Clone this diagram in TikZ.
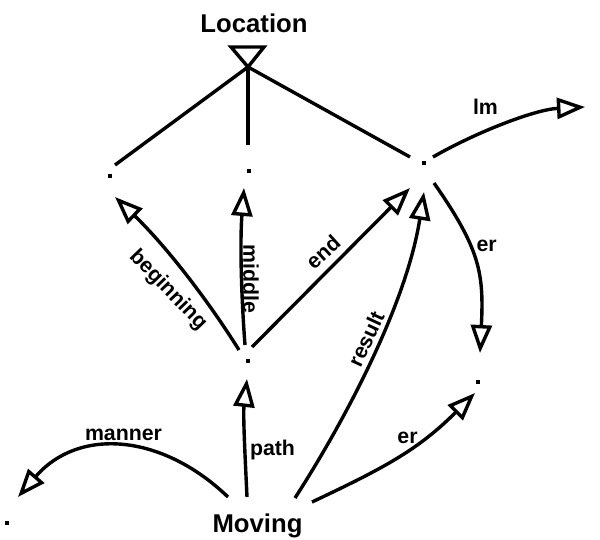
\documentclass[tikz,border=0pt]{standalone}
\usepackage{fontspec}
\setmainfont{Liberation Sans}
\usetikzlibrary{arrows.meta}
\begin{document}
\begin{tikzpicture}[x=1pt,y=-1pt,
  conn/.style={line width=3.4pt},
  arr/.style={conn, -{Triangle[open, length=28pt, width=21pt]}},
  dotnode/.style={fill=black, rectangle, inner sep=0pt, minimum size=4pt},
  lbl/.style={font=\bfseries\fontsize{21.3}{25}\selectfont, inner sep=0pt},
  title/.style={font=\bfseries\fontsize{25.7}{30}\selectfont, inner sep=0pt, anchor=base},
]
\useasboundingbox (0,0) rectangle (600,540);
% main nodes
\node[title] (Location) at (254,33) {Location};
\node[title] (Moving) at (257.5,532) {Moving};
\coordinate (apex) at (248,67);
\node[dotnode] (A) at (110,176) {};
\node[dotnode] (B) at (249,171) {};
\node[dotnode] (C) at (424,163) {};
\node[dotnode] (H) at (248,361) {};
\node[dotnode] (D) at (478,382) {};
\node[dotnode] (E) at (7,523) {};
\coordinate (lmEnd) at (585,107);
% generalisation triangle and its lines
\draw[conn, line join=miter] ([shift={(-17,-20)}]apex) -- ([shift={(16,-20)}]apex) -- (apex) -- cycle;
\draw[conn] (apex) -- ([shift={(5,-11)}]A.center);
\draw[conn] (apex) -- ([shift={(-1,-26)}]B.center);
\draw[conn] (apex) -- ([shift={(-14,-6)}]C.center);
% arrows
\draw[arr] ([shift={(-9,-11)}]H.center) .. controls (204,294) and (162,242) .. ([shift={(5,21)}]A.center);
\draw[arr] ([shift={(-3,-16)}]H.center) .. controls (241,293) and (240,240) .. ([shift={(-5,17)}]B.center);
\draw[arr] ([shift={(4,-14)}]H.center) -- ([shift={(-14,25)}]C.center);
\draw[arr] ([shift={(37.5,-34)}]Moving.base) .. controls (349,414) and (407,301) .. ([shift={(0,29)}]C.center);
\draw[arr] ([shift={(10,20)}]C.center) .. controls (480,249) and (484,273) .. ([shift={(2,-29)}]D.center);
\draw[arr] ([shift={(9,-6)}]C.center) .. controls (476.5,132) and (535,109.5) .. (lmEnd);
\draw[arr] ([shift={(-10.5,-35)}]Moving.base) .. controls (245,455) and (243,415) .. ([shift={(-1,18)}]H.center);
\draw[arr] ([shift={(54.5,-30)}]Moving.base) .. controls (384,468) and (418,450) .. ([shift={(-3,11)}]D.center);
\draw[arr] ([shift={(-29.5,-35)}]Moving.base) .. controls (162,433.5) and (78.7,427) .. ([shift={(11,-26)}]E.center);
% labels
\node[lbl, rotate=-46] (lbeg) at (168,290) {beginning};
\node[lbl, rotate=-90] (lmid) at (251,279) {middle};
\node[lbl, rotate=42] (lend) at (323,252) {end};
\node[lbl, rotate=65] (lres) at (366,339) {result};
\node[lbl] (ler1) at (486.7,245.5) {er};
\node[lbl] (llm) at (485.5,107) {lm};
\node[lbl] (lpath) at (272.5,450) {path};
\node[lbl] (lman) at (123.5,434.5) {manner};
\node[lbl] (ler2) at (407.5,437.5) {er};
\end{tikzpicture}
\end{document}
